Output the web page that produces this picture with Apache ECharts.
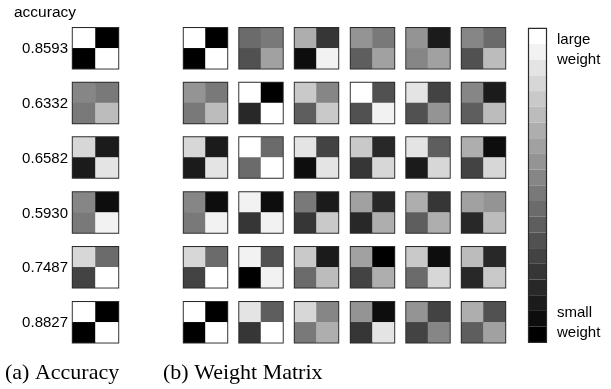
<!DOCTYPE html>
<html>
<head>
<meta charset="utf-8">
<script src="https://cdn.jsdelivr.net/npm/echarts@6/dist/echarts.min.js"></script>
<style>
html,body{margin:0;padding:0;background:#fff;}
#chart{width:611px;height:389px;}
</style>
</head>
<body>
<div id="chart"></div>
<script>
// Accuracy labels (one per row)
var accuracyLabels = ['0.8593', '0.6332', '0.6582', '0.5930', '0.7487', '0.8827'];

// 2x2 matrices as [topLeft, topRight, bottomLeft, bottomRight], weights 0 (small) .. 1 (large)
var accuracyMatrices = [
  [1.00, 0.00, 0.00, 1.00],
  [0.55, 0.47, 0.48, 0.73],
  [0.84, 0.11, 0.11, 0.90],
  [0.53, 0.07, 0.48, 0.94],
  [0.84, 0.44, 0.27, 1.00],
  [1.00, 0.00, 0.00, 1.00]
];

// Weight matrices, one array per row (6 matrices each)
var weightRow1 = [
  [1.00, 0.00, 0.00, 1.00],
  [0.42, 0.47, 0.33, 0.62],
  [0.71, 0.21, 0.06, 0.94],
  [0.58, 0.47, 0.37, 0.63],
  [0.58, 0.11, 0.53, 0.64],
  [0.53, 0.42, 0.31, 0.73]
];
var weightRow2 = [
  [0.56, 0.47, 0.48, 0.73],
  [1.00, 0.00, 0.16, 1.00],
  [0.78, 0.53, 0.37, 0.78],
  [1.00, 0.31, 0.31, 0.94],
  [0.90, 0.27, 0.31, 0.58],
  [0.53, 0.11, 0.37, 0.73]
];
var weightRow3 = [
  [0.85, 0.11, 0.11, 0.90],
  [1.00, 0.42, 0.42, 1.00],
  [0.90, 0.27, 0.07, 0.90],
  [0.78, 0.16, 0.21, 0.85],
  [0.90, 0.37, 0.11, 0.85],
  [0.69, 0.07, 0.27, 0.85]
];
var weightRow4 = [
  [0.53, 0.07, 0.48, 0.94],
  [0.94, 0.07, 0.22, 0.94],
  [0.47, 0.11, 0.21, 0.78],
  [0.63, 0.16, 0.16, 0.69],
  [0.69, 0.21, 0.35, 0.69],
  [0.63, 0.58, 0.16, 0.73]
];
var weightRow5 = [
  [0.85, 0.42, 0.27, 1.00],
  [0.94, 0.31, 0.00, 0.94],
  [0.78, 0.11, 0.42, 0.73],
  [0.63, 0.00, 0.27, 0.69],
  [0.78, 0.07, 0.42, 0.85],
  [0.73, 0.16, 0.16, 0.78]
];
var weightRow6 = [
  [1.00, 0.00, 0.00, 1.00],
  [0.90, 0.35, 0.22, 1.00],
  [0.84, 0.53, 0.47, 0.69],
  [0.56, 0.07, 0.21, 0.90],
  [0.58, 0.27, 0.27, 0.53],
  [0.69, 0.31, 0.37, 0.63]
];

var colorbarLabels = ['large\nweight', 'small\nweight'];
var captions = ['(a) Accuracy', '(b) Weight Matrix'];
var headerLabel = 'accuracy';

var weightRows = [weightRow1, weightRow2, weightRow3, weightRow4, weightRow5, weightRow6];

// ---- layout ----
var colLefts = [73, 184, 239.5, 295, 351, 406.5, 462];
var colWidths = [45, 43, 43, 43, 43, 43, 43];
var rowTops = [28.3, 83, 137.5, 192.5, 247.3, 302.3];
var rowH = 40;
var cellPos = [[0, 0], [1, 0], [0, 1], [1, 1]];

var grids = [], xAxes = [], yAxes = [], series = [];
function addMatrix(mat, left, top, width) {
  var idx = grids.length;
  grids.push({
    left: left, top: top, width: width, height: rowH,
    show: true, borderColor: '#2b2b2b', borderWidth: 2.4, backgroundColor: 'transparent'
  });
  xAxes.push({ gridIndex: idx, type: 'category', data: ['0', '1'], show: false });
  yAxes.push({ gridIndex: idx, type: 'category', data: ['0', '1'], inverse: true, show: false });
  series.push({
    type: 'heatmap', xAxisIndex: idx, yAxisIndex: idx,
    data: mat.map(function (v, i) { return [cellPos[i][0], cellPos[i][1], v]; }),
    emphasis: { disabled: true },
    itemStyle: { borderWidth: 0 }
  });
}
for (var r = 0; r < 6; r++) {
  addMatrix(accuracyMatrices[r], colLefts[0], rowTops[r], colWidths[0]);
  for (var c = 0; c < 6; c++) {
    addMatrix(weightRows[r][c], colLefts[c + 1], rowTops[r], colWidths[c + 1]);
  }
}

var graphics = [];
graphics.push({
  type: 'text', x: 14, y: 13,
  style: { text: headerLabel, font: '15.5px "Liberation Sans", Arial, sans-serif', fill: '#000', textVerticalAlign: 'middle' }
});
for (var r2 = 0; r2 < 6; r2++) {
  graphics.push({
    type: 'text', x: 68, y: rowTops[r2] + rowH / 2 + 1,
    style: {
      text: accuracyLabels[r2], font: '15px "Liberation Sans", Arial, sans-serif',
      fill: '#000', textAlign: 'right', textVerticalAlign: 'middle'
    }
  });
}
// colorbar outline
var cbTop = 28.3, cbBottom = 342.3, cbLeft = 528.5, cbWidth = 18;
graphics.push({
  type: 'rect', shape: { x: cbLeft, y: cbTop, width: cbWidth, height: cbBottom - cbTop },
  style: { fill: 'none', stroke: '#2b2b2b', lineWidth: 1.2 }, z: 100
});
graphics.push({
  type: 'text', x: 557, y: 30,
  style: { text: colorbarLabels[0], font: '15px "Liberation Sans", Arial, sans-serif', fill: '#000', lineHeight: 20, textVerticalAlign: 'top' }
});
graphics.push({
  type: 'text', x: 557, y: 343,
  style: { text: colorbarLabels[1], font: '15px "Liberation Sans", Arial, sans-serif', fill: '#000', lineHeight: 20, textVerticalAlign: 'bottom' }
});
graphics.push({
  type: 'text', x: 5, y: 373,
  style: { text: captions[0], font: '22px "Liberation Serif", "Times New Roman", serif', fill: '#000', textVerticalAlign: 'middle' }
});
graphics.push({
  type: 'text', x: 163, y: 373,
  style: { text: captions[1], font: '22px "Liberation Serif", "Times New Roman", serif', fill: '#000', textVerticalAlign: 'middle' }
});

var chart = echarts.init(document.getElementById('chart'), null, { renderer: 'canvas' });
chart.setOption({
  animation: false,
  backgroundColor: '#fff',
  grid: grids,
  xAxis: xAxes,
  yAxis: yAxes,
  visualMap: {
    type: 'piecewise',
    min: -1 / 38, max: 1 + 1 / 38,
    splitNumber: 20,
    orient: 'vertical',
    left: cbLeft, top: cbTop,
    padding: 0,
    itemWidth: cbWidth,
    itemHeight: (cbBottom - cbTop) / 20,
    itemGap: 0,
    itemSymbol: 'rect',
    showLabel: false,
    hoverLink: false,
    selectedMode: false,
    inRange: { color: ['#000000', '#ffffff'] }
  },
  series: series,
  graphic: graphics
});
</script>
</body>
</html>
